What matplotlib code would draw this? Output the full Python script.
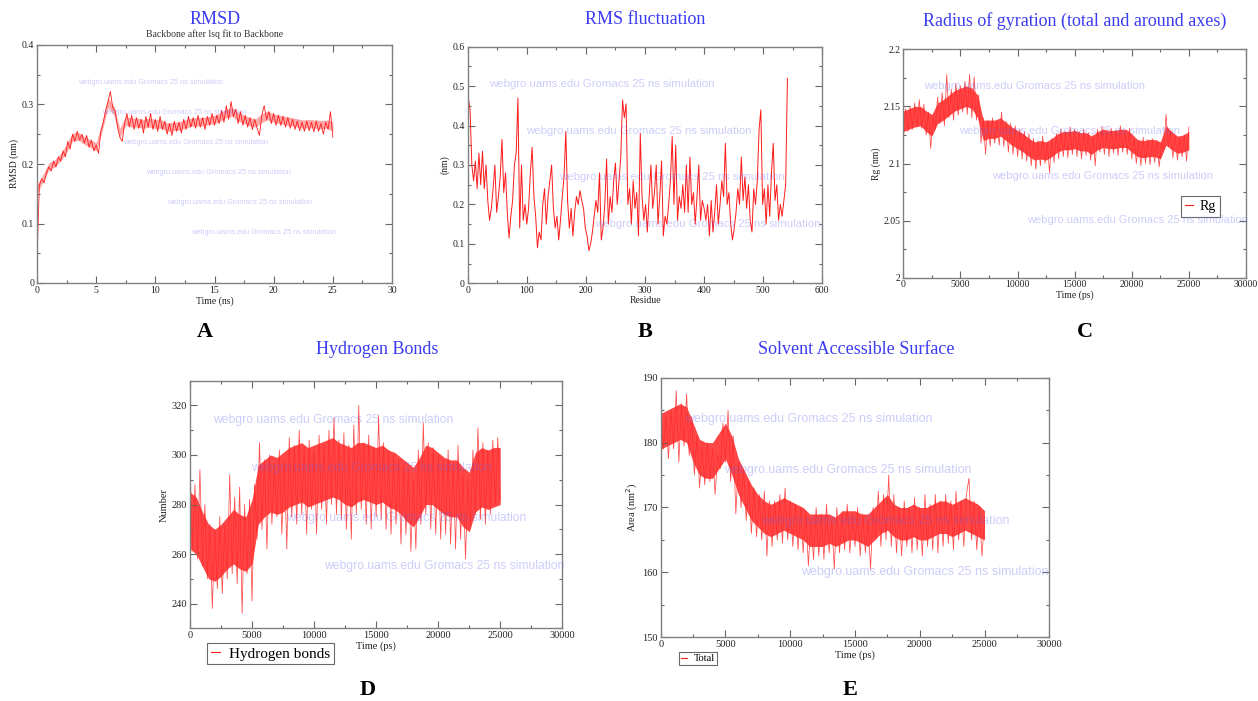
import numpy as np
import matplotlib
matplotlib.use('Agg')
import matplotlib.pyplot as plt
from matplotlib.ticker import MultipleLocator, FuncFormatter
from matplotlib.lines import Line2D

# ---------------- data ----------------
rmsd_step_ns = 0.2
rmsd_nm = [0.04, 0.165, 0.175, 0.168, 0.185, 0.195, 0.188, 0.205, 0.195, 0.212,
           0.205, 0.222, 0.212, 0.238, 0.225, 0.25, 0.238, 0.255, 0.24, 0.25,
           0.235, 0.248, 0.228, 0.24, 0.222, 0.232, 0.218, 0.255, 0.27, 0.29,
           0.305, 0.322, 0.295, 0.29, 0.262, 0.245, 0.238, 0.268, 0.285, 0.262,
           0.282, 0.258, 0.278, 0.26, 0.275, 0.252, 0.28, 0.262, 0.285, 0.258,
           0.275, 0.255, 0.28, 0.258, 0.272, 0.25, 0.268, 0.248, 0.272, 0.255,
           0.27, 0.252, 0.275, 0.258, 0.28, 0.262, 0.278, 0.26, 0.282, 0.262,
           0.278, 0.258, 0.28, 0.265, 0.285, 0.265, 0.282, 0.268, 0.29, 0.27,
           0.298, 0.275, 0.305, 0.28, 0.292, 0.268, 0.288, 0.265, 0.282, 0.262,
           0.278, 0.258, 0.275, 0.26, 0.248, 0.282, 0.298, 0.275, 0.288, 0.268,
           0.285, 0.265, 0.282, 0.265, 0.28, 0.262, 0.278, 0.26, 0.275, 0.258,
           0.272, 0.256, 0.27, 0.255, 0.272, 0.256, 0.27, 0.254, 0.272, 0.255,
           0.268, 0.25, 0.27, 0.258, 0.288, 0.245]
# dense core band of the RMSD trace, every 0.5 ns
band_step_ns = 0.5
rmsd_core_low = [0.150, 0.170, 0.190, 0.195, 0.205, 0.220, 0.238, 0.240, 0.233, 0.228,
                 0.222, 0.255, 0.295, 0.282, 0.245, 0.265, 0.262, 0.262, 0.260, 0.262,
                 0.260, 0.260, 0.255, 0.256, 0.257, 0.260, 0.263, 0.264, 0.264, 0.266,
                 0.268, 0.272, 0.278, 0.280, 0.272, 0.268, 0.264, 0.262, 0.270, 0.274,
                 0.270, 0.268, 0.266, 0.264, 0.262, 0.260, 0.261, 0.260, 0.259, 0.260,
                 0.255]
rmsd_core_high = [0.165, 0.182, 0.202, 0.207, 0.218, 0.234, 0.252, 0.253, 0.246, 0.241,
                  0.236, 0.270, 0.312, 0.297, 0.260, 0.280, 0.277, 0.277, 0.275, 0.277,
                  0.275, 0.274, 0.269, 0.270, 0.271, 0.274, 0.277, 0.278, 0.278, 0.280,
                  0.282, 0.286, 0.292, 0.295, 0.287, 0.282, 0.278, 0.276, 0.285, 0.289,
                  0.284, 0.282, 0.280, 0.278, 0.276, 0.274, 0.275, 0.274, 0.273, 0.274,
                  0.272]

rmsf_first_residue = 1
rmsf_residue_step = 3
rmsf_nm = [0.47, 0.44, 0.30, 0.26, 0.31, 0.24, 0.33, 0.25, 0.335, 0.24,
           0.30, 0.21, 0.16, 0.19, 0.24, 0.30, 0.18, 0.22, 0.27, 0.365,
           0.23, 0.28, 0.18, 0.115, 0.17, 0.21, 0.30, 0.33, 0.47, 0.14,
           0.30, 0.16, 0.20, 0.15, 0.19, 0.28, 0.345, 0.22, 0.17, 0.09,
           0.13, 0.11, 0.20, 0.24, 0.15, 0.22, 0.26, 0.30, 0.19, 0.14,
           0.17, 0.11, 0.16, 0.22, 0.27, 0.385, 0.21, 0.14, 0.19, 0.12,
           0.18, 0.22, 0.20, 0.235, 0.21, 0.19, 0.14, 0.12, 0.083, 0.10,
           0.13, 0.17, 0.21, 0.18, 0.28, 0.11, 0.14, 0.20, 0.315, 0.15,
           0.22, 0.18, 0.26, 0.305, 0.20, 0.26, 0.32, 0.465, 0.42, 0.455,
           0.20, 0.24, 0.15, 0.26, 0.19, 0.23, 0.12, 0.38, 0.22, 0.16,
           0.20, 0.13, 0.22, 0.30, 0.19, 0.23, 0.30, 0.15, 0.22, 0.31,
           0.12, 0.17, 0.15, 0.20, 0.26, 0.372, 0.20, 0.35, 0.16, 0.22,
           0.19, 0.25, 0.18, 0.30, 0.18, 0.32, 0.20, 0.23, 0.15, 0.22,
           0.30, 0.16, 0.21, 0.19, 0.16, 0.20, 0.12, 0.21, 0.13, 0.18,
           0.25, 0.15, 0.20, 0.26, 0.22, 0.355, 0.20, 0.23, 0.15, 0.11,
           0.14, 0.18, 0.24, 0.20, 0.32, 0.21, 0.27, 0.19, 0.25, 0.16,
           0.13, 0.24, 0.20, 0.26, 0.39, 0.44, 0.20, 0.24, 0.15, 0.25,
           0.17, 0.28, 0.355, 0.21, 0.25, 0.16, 0.20, 0.17, 0.21, 0.25,
           0.52]

frame_step_ps = 200      # spiky traces
band_step_ps = 500       # dense core bands

rg_nm = [2.120, 2.148, 2.128, 2.150, 2.130, 2.153, 2.132, 2.156, 2.131, 2.152,
         2.125, 2.145, 2.113, 2.142, 2.130, 2.158, 2.135, 2.162, 2.133, 2.178,
         2.140, 2.165, 2.138, 2.170, 2.142, 2.168, 2.145, 2.172, 2.143, 2.178,
         2.140, 2.176, 2.138, 2.160, 2.118, 2.140, 2.108, 2.138, 2.115, 2.140,
         2.118, 2.138, 2.116, 2.145, 2.115, 2.137, 2.110, 2.135, 2.108, 2.133,
         2.106, 2.130, 2.104, 2.128, 2.102, 2.126, 2.098, 2.122, 2.095, 2.120,
         2.098, 2.124, 2.100, 2.118, 2.092, 2.122, 2.101, 2.126, 2.104, 2.130,
         2.106, 2.128, 2.105, 2.132, 2.108, 2.130, 2.106, 2.128, 2.104, 2.130,
         2.107, 2.127, 2.103, 2.125, 2.098, 2.130, 2.110, 2.132, 2.108, 2.128,
         2.106, 2.131, 2.109, 2.129, 2.107, 2.133, 2.110, 2.128, 2.108, 2.131,
         2.104, 2.122, 2.100, 2.120, 2.098, 2.123, 2.100, 2.121, 2.099, 2.122,
         2.101, 2.120, 2.097, 2.118, 2.112, 2.143, 2.115, 2.128, 2.105, 2.124,
         2.103, 2.122, 2.106, 2.125, 2.102, 2.132]
rg_core_low = [2.128, 2.130, 2.132, 2.133, 2.128, 2.124, 2.135, 2.138, 2.142, 2.146,
               2.148, 2.150, 2.148, 2.140, 2.120, 2.122, 2.122, 2.124, 2.120, 2.116,
               2.113, 2.110, 2.106, 2.103, 2.104, 2.103, 2.106, 2.110, 2.112, 2.112,
               2.113, 2.111, 2.111, 2.108, 2.112, 2.114, 2.113, 2.113, 2.114, 2.114,
               2.110, 2.106, 2.105, 2.106, 2.106, 2.104, 2.116, 2.112, 2.109, 2.110,
               2.112]
rg_core_high = [2.146, 2.148, 2.150, 2.150, 2.146, 2.143, 2.153, 2.156, 2.160, 2.164,
                2.166, 2.168, 2.166, 2.160, 2.138, 2.138, 2.138, 2.140, 2.136, 2.132,
                2.129, 2.126, 2.122, 2.119, 2.120, 2.119, 2.122, 2.126, 2.128, 2.128,
                2.129, 2.127, 2.127, 2.124, 2.128, 2.130, 2.129, 2.129, 2.130, 2.130,
                2.126, 2.121, 2.120, 2.121, 2.121, 2.119, 2.133, 2.128, 2.124, 2.125,
                2.128]

hbonds = [296, 262, 288, 258, 294, 255, 280, 250, 272, 238,
          270, 246, 275, 244, 272, 250, 292, 252, 283, 248,
          287, 236, 280, 252, 282, 241, 288, 266, 305, 270,
          298, 262, 300, 272, 296, 275, 302, 268, 298, 262,
          307, 275, 304, 272, 310, 276, 303, 268, 306, 278,
          302, 268, 308, 278, 304, 272, 310, 280, 315, 276,
          306, 274, 309, 270, 304, 266, 312, 276, 320, 278,
          305, 272, 308, 270, 303, 275, 316, 274, 305, 270,
          302, 268, 300, 272, 298, 264, 296, 268, 294, 261,
          290, 262, 302, 272, 313, 276, 305, 270, 303, 268,
          300, 266, 298, 268, 302, 264, 296, 262, 304, 266,
          292, 258, 290, 270, 302, 276, 311, 274, 305, 272,
          302, 276, 306, 280, 307, 282]
hb_core_low = [262, 260, 255, 250, 249, 251, 254, 256, 254, 253,
               256, 272, 275, 277, 276, 277, 279, 280, 281, 279,
               280, 281, 282, 283, 282, 280, 279, 281, 282, 281,
               280, 281, 279, 278, 276, 273, 271, 275, 280, 280,
               278, 276, 275, 275, 271, 269, 277, 279, 278, 279,
               280]
hb_core_high = [285, 283, 277, 272, 270, 272, 275, 278, 276, 275,
                282, 296, 298, 300, 299, 301, 303, 304, 305, 303,
                304, 305, 306, 307, 305, 304, 303, 305, 305, 304,
                303, 304, 302, 301, 299, 297, 295, 299, 304, 303,
                301, 299, 298, 298, 295, 293, 301, 303, 302, 303,
                303]

sasa_nm2 = [186, 179, 184, 177.5, 185, 179, 188, 177, 186, 179.5,
            187.5, 178, 184, 175, 181, 173, 179.5, 173.5, 180, 174,
            179, 172, 178, 176, 183, 177, 185, 174, 181, 169,
            177, 170, 176, 168, 174, 166, 173, 165.5, 172, 165,
            172.5, 162.5, 171, 164, 171, 165, 172, 164.5, 173, 165,
            171, 164, 170.5, 163.5, 170, 163, 169.5, 161, 168, 162,
            170, 162.5, 169, 162, 170.5, 163, 168, 160.5, 170, 163,
            169, 163.5, 170.5, 163, 169, 164, 170, 162.5, 169, 163,
            168, 160.5, 170, 165, 172.5, 164, 172, 165, 175, 164,
            172, 163, 170, 162.5, 171, 164, 170, 163, 171.5, 163.5,
            170, 162.5, 172, 164, 170.5, 163.5, 172, 163, 171, 164,
            172, 164.5, 171, 163.5, 172.5, 165, 171, 164, 172, 174.5,
            165, 171, 163.5, 170, 162.5, 168]
sasa_core_low = [179, 179.5, 180, 180.5, 180, 177, 175, 174.5, 174.5, 176,
                 177.5, 175, 172, 170, 168, 167, 166, 165.5, 166, 166.5,
                 166, 165.5, 165, 164, 164, 164, 164.5, 164, 164.5, 165,
                 165, 164.5, 164, 165, 166, 166.5, 165.5, 165, 165, 165.5,
                 165, 165, 165.5, 166, 166, 165.5, 166, 166.5, 166, 165.5,
                 165]
sasa_core_high = [184.5, 185, 185.5, 186, 185.5, 183, 180.5, 180, 180, 181.5,
                  183, 181, 177.5, 175.5, 173.5, 172, 171, 170.5, 171, 171.5,
                  171, 170.5, 170, 169, 169, 169, 169, 168.5, 169.5, 169.5,
                  169.5, 169, 169, 170, 171, 172, 170.5, 170, 170, 170.5,
                  170, 170, 170.5, 171, 171, 170.5, 171, 171.5, 171, 170.5,
                  169.5]

watermark = "webgro.uams.edu Gromacs 25 ns simulation"

# ---------------- figure ----------------
W, H = 1258, 701
fig = plt.figure(figsize=(W / 100, H / 100), dpi=100)
fig.patch.set_facecolor('white')

SERIF = ['Liberation Serif', 'DejaVu Serif']
SANS = ['Liberation Sans', 'DejaVu Sans']
RED = '#ff1a1a'
CORE = '#ff2626'
TITLE_BLUE = '#3b3bf2'
WM_COLOR = (0.35, 0.35, 0.95)


def ax_at(x0, y0, x1, y1):
    return fig.add_axes([x0 / W, 1 - y1 / H, (x1 - x0) / W, (y1 - y0) / H])


def style(ax, xlim, ylim, xmaj, xmin, ymaj, ymin, fs, xlabel, ylabel):
    ax.set_xlim(*xlim)
    ax.set_ylim(*ylim)
    ax.xaxis.set_major_locator(MultipleLocator(xmaj))
    ax.xaxis.set_minor_locator(MultipleLocator(xmin))
    ax.yaxis.set_major_locator(MultipleLocator(ymaj))
    ax.yaxis.set_minor_locator(MultipleLocator(ymin))
    fmt = FuncFormatter(lambda v, p: '%g' % round(v, 6))
    ax.xaxis.set_major_formatter(fmt)
    ax.yaxis.set_major_formatter(fmt)
    ax.tick_params(which='both', direction='in', top=True, right=True,
                   color='#666666', width=0.8)
    ax.tick_params(which='major', length=5, pad=2, labelsize=fs,
                   labelcolor='#222222')
    ax.tick_params(which='minor', length=2.5)
    for lab in ax.get_xticklabels() + ax.get_yticklabels():
        lab.set_fontfamily(SERIF)
    for s in ax.spines.values():
        s.set_color('#808080')
        s.set_linewidth(1.0)
    ax.set_xlabel(xlabel, fontsize=fs, family=SERIF, color='#222222', labelpad=1)
    ax.set_ylabel(ylabel, fontsize=fs, family=SERIF, color='#222222', labelpad=2)


def ftext(x, y, s, **kw):
    fig.text(x / W, 1 - y / H, s, **kw)


def marks(positions, size):
    for (x, y) in positions:
        ftext(x, y, watermark, ha='left', va='center', fontsize=size,
              family=SANS, color=WM_COLOR, alpha=0.3, zorder=10)


def dense_trace(ax, t, vals, tb, lo, hi):
    ax.fill_between(tb, lo, hi, color=CORE, lw=0, alpha=0.85)
    ax.plot(t, vals, color='#ff2a2a', lw=0.55, alpha=0.85)


# ---- A: RMSD ----
axA = ax_at(37, 45, 392, 283)
tA = np.arange(len(rmsd_nm)) * rmsd_step_ns
tAb = np.arange(len(rmsd_core_low)) * band_step_ns
axA.fill_between(tAb, rmsd_core_low, rmsd_core_high, color=CORE, alpha=0.4, lw=0)
axA.plot(tA, rmsd_nm, color=RED, lw=0.6)
style(axA, (0, 30), (0, 0.4), 5, 2.5, 0.1, 0.05, 7, 'Time (ns)', 'RMSD (nm)')
ftext(215, 20, 'RMSD', ha='center', va='center', fontsize=13,
      family=SERIF, color=TITLE_BLUE)
ftext(215, 34, 'Backbone after lsq fit to Backbone', ha='center', va='center',
      fontsize=7, family=SERIF, color='#333333')
marks([(78, 82), (102, 112), (123, 142), (146, 172), (167, 202), (191, 232)], 5.3)

# ---- B: RMSF ----
axB = ax_at(467.7, 46.7, 822.3, 283.3)
resB = rmsf_first_residue + np.arange(len(rmsf_nm)) * rmsf_residue_step
axB.plot(resB, rmsf_nm, color=RED, lw=0.7)
style(axB, (0, 600), (0, 0.6), 100, 50, 0.1, 0.05, 7, 'Residue', '(nm)')
ftext(645, 20, 'RMS fluctuation', ha='center', va='center', fontsize=13,
      family=SERIF, color=TITLE_BLUE)
marks([(489, 84), (526, 131), (559, 177), (595, 224)], 8.2)

# ---- C: Radius of gyration ----
axC = ax_at(903.3, 49.3, 1246, 277.7)
tC = np.arange(len(rg_nm)) * frame_step_ps
tCb = np.arange(len(rg_core_low)) * band_step_ps
dense_trace(axC, tC, rg_nm, tCb, rg_core_low, rg_core_high)
style(axC, (0, 30000), (2.0, 2.2), 5000, 2500, 0.05, 0.025, 7, 'Time (ps)', 'Rg (nm)')
ftext(1075, 21, 'Radius of gyration (total and around axes)', ha='center',
      va='center', fontsize=13, family=SERIF, color=TITLE_BLUE)
marks([(924, 86), (959, 131), (992, 176), (1027, 220)], 8.0)
legC = axC.legend([Line2D([], [], color=RED, lw=0.8)], ['Rg'],
                  loc='upper left', bbox_to_anchor=(0.809, 0.359),
                  frameon=True, fancybox=False, handlelength=0.6,
                  handletextpad=0.5, borderpad=0.3, borderaxespad=0,
                  prop={'family': SERIF, 'size': 10})
legC.get_frame().set_edgecolor('#444444')
legC.get_frame().set_linewidth(0.8)

# ---- D: Hydrogen bonds ----
axD = ax_at(190, 380.7, 562.3, 628.3)
tD = np.arange(len(hbonds)) * frame_step_ps
tDb = np.arange(len(hb_core_low)) * band_step_ps
dense_trace(axD, tD, hbonds, tDb, hb_core_low, hb_core_high)
style(axD, (0, 30000), (230, 330), 5000, 2500, 20, 10, 7.5, 'Time (ps)', 'Number')
ftext(377, 349, 'Hydrogen Bonds', ha='center', va='center', fontsize=13,
      family=SERIF, color=TITLE_BLUE)
marks([(213, 420), (251, 468), (286, 518), (324, 566)], 8.7)
legD = fig.legend([Line2D([], [], color=RED, lw=0.8)], ['Hydrogen bonds'],
                  loc='upper left', bbox_to_anchor=(207 / W, 1 - 643 / H),
                  frameon=True, fancybox=False, handlelength=0.6,
                  handletextpad=0.6, borderpad=0.25, borderaxespad=0,
                  prop={'family': SERIF, 'size': 11})
legD.get_frame().set_edgecolor('#444444')
legD.get_frame().set_linewidth(0.8)

# ---- E: SASA ----
axE = ax_at(660.7, 377.7, 1049.3, 637.3)
tE = np.arange(len(sasa_nm2)) * frame_step_ps
tEb = np.arange(len(sasa_core_low)) * band_step_ps
dense_trace(axE, tE, sasa_nm2, tEb, sasa_core_low, sasa_core_high)
style(axE, (0, 30000), (150, 190), 5000, 2500, 10, 5, 7.5, 'Time (ps)',
      r'Area (nm$^2$)')
ftext(856, 349, 'Solvent Accessible Surface', ha='center', va='center',
      fontsize=13, family=SERIF, color=TITLE_BLUE)
marks([(685, 419), (724, 470), (762, 521), (801, 572)], 9.0)
legE = fig.legend([Line2D([], [], color=RED, lw=0.8)], ['Total'],
                  loc='upper left', bbox_to_anchor=(679 / W, 1 - 652 / H),
                  frameon=True, fancybox=False, handlelength=0.6,
                  handletextpad=0.6, borderpad=0.2, borderaxespad=0,
                  prop={'family': SERIF, 'size': 7.5})
legE.get_frame().set_edgecolor('#444444')
legE.get_frame().set_linewidth(0.8)

# ---- panel letters ----
for (x, y, s) in [(205, 332, 'A'), (645, 332, 'B'), (1085, 332, 'C'),
                  (368, 690, 'D'), (850, 690, 'E')]:
    ftext(x, y, s, ha='center', va='center', fontsize=16, fontweight='bold',
          family=SERIF, color='black')

fig.savefig('out.png', dpi=100)
